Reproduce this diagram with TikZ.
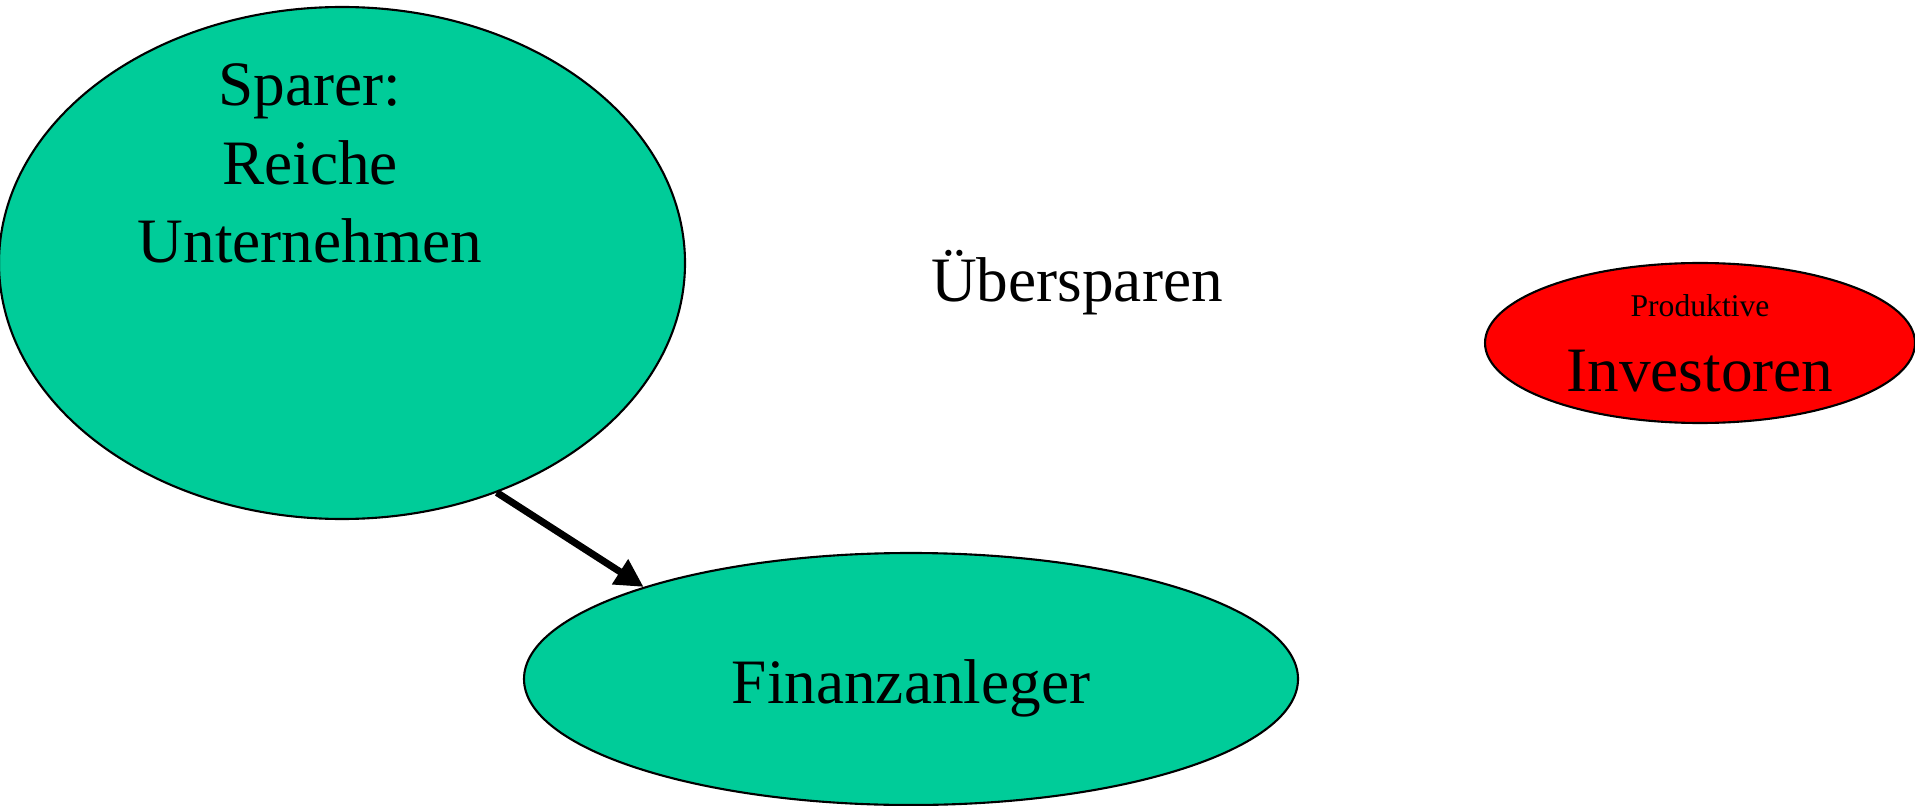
\documentclass[tikz,border=0pt]{standalone}
\usepackage{fontspec}
\setmainfont{Liberation Serif}
\usetikzlibrary{shapes.geometric,arrows.meta}
\definecolor{sparegreen}{RGB}{0,204,153}

\begin{document}
\begin{tikzpicture}[
        blob/.style={ellipse,draw,line width=0.6pt,inner sep=0pt},
        big/.style={font=\fontsize{18}{22.4}\selectfont}
    ]
        \useasboundingbox (0,0) rectangle (19.15,-8.06);
        \clip (0,0) rectangle (19.15,-8.06);
        \node[blob,fill=sparegreen,minimum width=6.86cm,minimum height=5.12cm] (sparer) at (3.42,-2.63) {};
        \node[big,align=center,anchor=base] (sparertext) at (3.10,-2.63) {Sparer:\\Reiche\\Unternehmen}; % base = last line
        \node[blob,fill=sparegreen,minimum width=7.74cm,minimum height=2.52cm,big,text height=14pt,text depth=0pt] (anleger) at (9.11,-6.79) {Finanzanleger};
        \node[blob,fill=red,minimum width=4.30cm,minimum height=1.60cm,big,align=center] (investoren) at (17.00,-3.43)
            {{\fontsize{9}{10}\selectfont Produktive}\\[-1pt]Investoren};
        \node[big,anchor=base] (uebersparen) at (10.77,-3.02) {Übersparen};
        \draw[line width=2pt,-{Triangle[length=8pt,width=8pt]}] (sparer.-56) -- (anleger.161);
    \end{tikzpicture}
\end{document}
